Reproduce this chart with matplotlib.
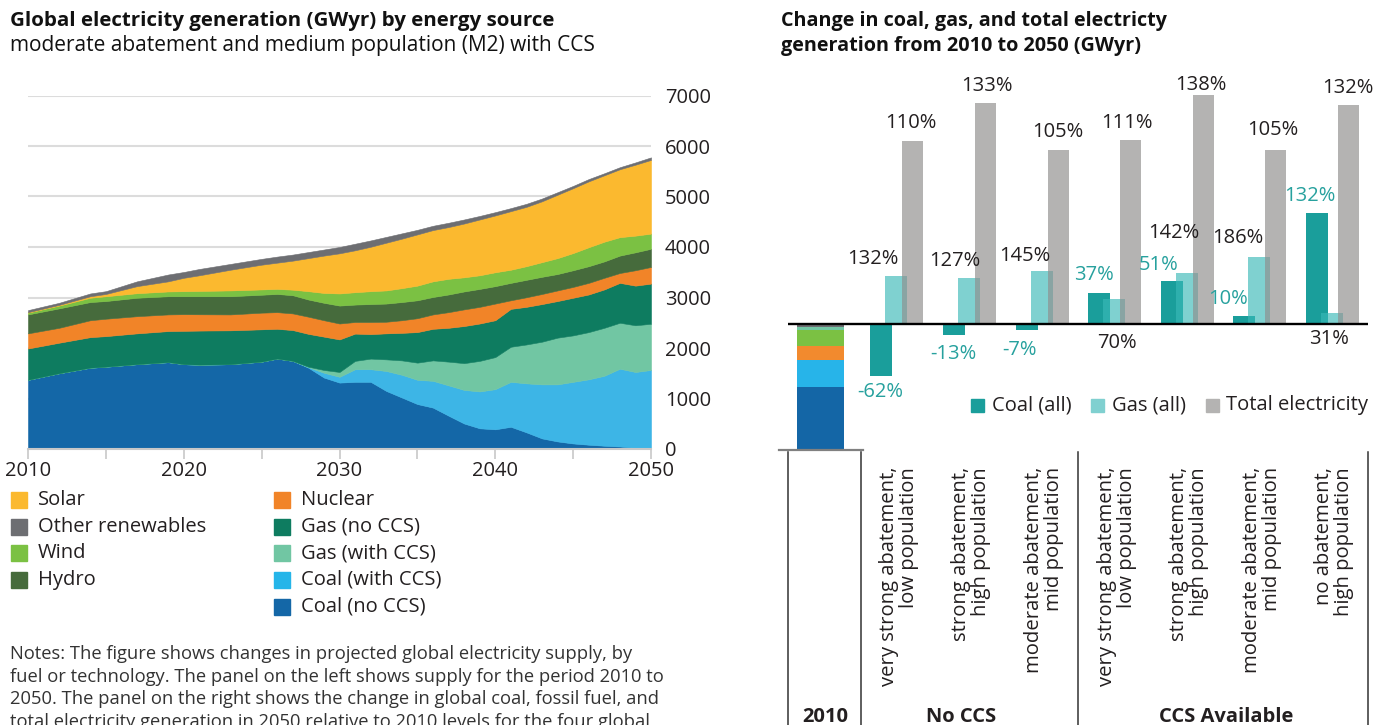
import matplotlib
matplotlib.use("Agg")
import matplotlib.pyplot as plt
import numpy as np
from matplotlib.patches import Rectangle
from matplotlib.lines import Line2D

plt.rcParams['font.family'] = ['Open Sans', 'DejaVu Sans']

W, H = 1384, 725
DPI = 100

# ---------------- Left panel data (GWyr) ----------------
years = [2010, 2012, 2014, 2015, 2017, 2019, 2020, 2021, 2023, 2025, 2026, 2027,
         2028, 2029, 2030, 2031, 2032, 2033, 2034, 2035, 2036, 2037, 2038, 2039,
         2040, 2041, 2042, 2043, 2044, 2045, 2046, 2047, 2048, 2049, 2050]
coal_no_ccs = [1370, 1500, 1610, 1630, 1680, 1720, 1680, 1670, 1680, 1730, 1790, 1745,
               1610, 1415, 1315, 1330, 1330, 1150, 1020, 890, 820, 660, 505, 410,
               390, 440, 330, 210, 150, 110, 85, 65, 50, 25, 0]
coal_with_ccs = [0, 0, 0, 0, 0, 0, 0, 0, 0, 0, 0, 0,
                 10, 95, 115, 250, 250, 395, 450, 480, 530, 600, 665, 730,
                 795, 890, 970, 1070, 1130, 1220, 1295, 1385, 1540, 1500, 1565]
gas_with_ccs = [0, 0, 0, 0, 0, 0, 0, 0, 0, 0, 0, 0,
                10, 55, 95, 165, 210, 230, 285, 340, 405, 470, 530, 605,
                635, 695, 770, 845, 925, 920, 935, 950, 910, 925, 915]
gas_no_ccs = [620, 605, 605, 605, 610, 615, 660, 675, 670, 640, 590, 610,
              650, 660, 645, 540, 485, 515, 545, 605, 625, 670, 735, 740,
              730, 750, 745, 745, 725, 745, 745, 760, 790, 785, 795]
nuclear = [300, 295, 335, 345, 340, 330, 330, 323, 315, 330, 330, 330,
           340, 325, 315, 230, 240, 230, 250, 275, 285, 310, 330, 330,
           330, 170, 190, 200, 210, 215, 230, 230, 195, 305, 330]
hydro = [375, 385, 360, 350, 365, 360, 355, 357, 360, 355, 360, 360,
         340, 345, 355, 345, 355, 360, 360, 355, 345, 350, 355, 355,
         345, 345, 345, 340, 325, 330, 330, 325, 345, 355, 360]
wind = [35, 55, 85, 95, 90, 95, 100, 105, 115, 105, 100, 110,
        165, 195, 240, 245, 255, 260, 275, 290, 310, 310, 280, 270,
        275, 260, 270, 290, 315, 340, 375, 390, 365, 330, 300]
solar = [10, 15, 30, 45, 140, 200, 265, 310, 410, 490, 520, 575,
         655, 740, 795, 830, 880, 945, 980, 1015, 1015, 1025, 1065, 1105,
         1125, 1160, 1175, 1205, 1255, 1285, 1305, 1315, 1345, 1405, 1460]
other_renewables = [40, 40, 55, 55, 95, 135, 115, 125, 115, 115, 120, 120,
                    120, 120, 125, 130, 125, 115, 105, 90, 85, 85, 80, 70,
                    65, 60, 60, 55, 50, 45, 45, 40, 40, 45, 50]

y_ticks = [0, 1000, 2000, 3000, 4000, 5000, 6000, 7000]
x_ticks = [2010, 2015, 2020, 2025, 2030, 2035, 2040, 2045, 2050]
x_tick_labels = ['2010', '', '2020', '', '2030', '', '2040', '', '2050']

legend_col1 = ['Solar', 'Other renewables', 'Wind', 'Hydro']
legend_col2 = ['Nuclear', 'Gas (no CCS)', 'Gas (with CCS)', 'Coal (with CCS)', 'Coal (no CCS)']

# ---------------- Right panel data ----------------
scenarios = ['very strong abatement,\nlow population',
             'strong abatement,\nhigh population',
             'moderate abatement,\nmid population',
             'very strong abatement,\nlow population',
             'strong abatement,\nhigh population',
             'moderate abatement,\nmid population',
             'no abatement,\nhigh population']
scenario_groups = ['No CCS', 'CCS Available']
coal_pct = [-62, -13, -7, 37, 51, 10, 132]
gas_pct = [132, 127, 145, 70, 142, 186, 31]
total_pct = [110, 133, 105, 111, 138, 105, 132]
coal_2010 = 1395
gas_2010 = 600
total_2010 = 2750
# 2010 reference bar segments (drawn downward from zero), top to bottom
bar2010_values = [50, 50, 265, 232, 452, 1370]

# ---------------- colours ----------------
C_SOLAR = '#fbb92f'
C_OTHER = '#6d6e72'
C_WIND = '#7bc143'
C_HYDRO = '#466b3c'
C_NUC = '#f18428'
C_GAS = '#0e7c60'
C_GASCCS = '#71c6a3'
C_COALCCS = '#3db5e6'
C_COALCCS_LEG = '#25b5e9'
C_COAL = '#1467a7'
TXT = '#231f20'
TEAL = '#1a9e9b'
TEAL_TXT = '#27a19e'

fig = plt.figure(figsize=(W / DPI, H / DPI), dpi=DPI)


def fx(x):
    return x / W


def fy(y):
    return 1 - y / H


def fit_text(x, y, s, width_px, size0=14, **kw):
    t = fig.text(fx(x), fy(y), s, fontsize=size0, **kw)
    r = fig.canvas.get_renderer()
    w = t.get_window_extent(r).width
    t.set_fontsize(size0 * width_px / w)
    return t


# ================= LEFT PANEL =================
ax1 = fig.add_axes([fx(28), fy(449), (651 - 28) / W, (449 - 95.5) / H])
layers = [coal_no_ccs, coal_with_ccs, gas_with_ccs, gas_no_ccs, nuclear, hydro,
          wind, solar, other_renewables]
cols = [C_COAL, C_COALCCS, C_GASCCS, C_GAS, C_NUC, C_HYDRO, C_WIND, C_SOLAR, C_OTHER]
polys = ax1.stackplot(years, *layers, colors=cols)
for p, c in zip(polys, cols):
    p.set_edgecolor(c)
    p.set_linewidth(0.4)
ax1.set_xlim(2010, 2050)
ax1.set_ylim(0, 7000)
ax1.set_yticks(y_ticks)
ax1.set_yticklabels([str(v) for v in y_ticks])
ax1.yaxis.tick_right()
ax1.tick_params(axis='y', length=0, pad=10, labelsize=14.5, labelcolor=TXT)
ax1.set_xticks(x_ticks)
ax1.set_xticklabels(x_tick_labels)
ax1.tick_params(axis='x', length=7, width=1.2, color='#c8c8c8', pad=2,
                labelsize=14.5, labelcolor=TXT)
for s in ['top', 'left', 'right']:
    ax1.spines[s].set_visible(False)
ax1.spines['bottom'].set_color('#c8c8c8')
ax1.spines['bottom'].set_linewidth(1.5)
ax1.grid(axis='y', color='#dcdcdc', lw=1.5)
ax1.set_axisbelow(True)

# titles
fit_text(10, 21, 'Global electricity generation (GWyr) by energy source', 539,
         size0=13, weight='bold', color='#111111', va='center', ha='left')
fit_text(10, 46, 'moderate abatement and medium population (M2) with CCS', 591,
         size0=14, color='#111111', va='center', ha='left')

# left legend
rows = [500, 526.7, 553.3, 580, 606.7]
col1_colors = [C_SOLAR, C_OTHER, C_WIND, C_HYDRO]
col2_colors = [C_NUC, C_GAS, C_GASCCS, C_COALCCS_LEG, C_COAL]
for lab, c, yy in zip(legend_col1, col1_colors, rows):
    fig.add_artist(Rectangle((fx(11), fy(yy + 8)), 16 / W, 16 / H, color=c,
                             transform=fig.transFigure))
    fig.text(fx(38), fy(yy), lab, fontsize=14.5, color=TXT, va='center', ha='left')
for lab, c, yy in zip(legend_col2, col2_colors, rows):
    fig.add_artist(Rectangle((fx(274), fy(yy + 8)), 16 / W, 16 / H, color=c,
                             transform=fig.transFigure))
    fig.text(fx(301), fy(yy), lab, fontsize=14.5, color=TXT, va='center', ha='left')

# notes
notes = ['Notes: The figure shows changes in projected global electricity supply, by',
         'fuel or technology. The panel on the left shows supply for the period 2010 to',
         '2050. The panel on the right shows the change in global coal, fossil fuel, and',
         'total electricity generation in 2050 relative to 2010 levels for the four global']
t0 = fit_text(10, 654, notes[0], 618, size0=13, color='#333333', va='center', ha='left')
nsize = t0.get_fontsize()
for i, line in enumerate(notes[1:], start=1):
    fig.text(fx(10), fy(654 + 22.7 * i), line, fontsize=nsize, color='#333333',
             va='center', ha='left')

# ================= RIGHT PANEL =================
k = 16.557   # GWyr per pixel
u = 72.57    # pixels per group
ax2 = fig.add_axes([fx(779), fy(449), (1370 - 779) / W, (449 - 60) / H])
ax2.set_ylim(-(449 - 324) * k, (324 - 60) * k)
ax2.set_xlim(1 - (896.9 - 779) / u, 1 + (1370 - 896.9) / u)
ax2.axis('off')

pos = np.arange(1, len(scenarios) + 1)
coal_vals = np.array(coal_pct) / 100 * coal_2010
gas_vals = np.array(gas_pct) / 100 * gas_2010
total_vals = np.array(total_pct) / 100 * total_2010

ax2.bar(pos - 26.5 / u, coal_vals, width=22 / u, align='edge', color=TEAL, lw=0, zorder=2)
ax2.bar(pos - 11.5 / u, gas_vals, width=22 / u, align='edge', color=(58/255, 185/255, 184/255),
        alpha=0.65, lw=0, zorder=3)
ax2.bar(pos + 5.5 / u, total_vals, width=21 / u, align='edge', color=(143/255, 142/255, 141/255),
        alpha=0.67, lw=0, zorder=4)

# 2010 reference bar
seg_colors = ['#6d6e72', '#71c6a3', '#7bc143', '#f28a2e', '#27b4e9', '#1466a6']
top = 0
for v, c in zip(bar2010_values, seg_colors):
    ax2.bar(-0.05, -v, bottom=top, width=47 / u, color=c, lw=0, zorder=2)
    top -= v

# zero line
ax2.plot([1 - (896.9 - 788) / u, 1 + (1367.5 - 896.9) / u], [0, 0], color='black',
         lw=1.7, zorder=6, solid_capstyle='butt')

# value labels
coal_off = [(-1, -16), (-1, -19), (-7, -20), (-5, 18), (-13, 16), (-16, 17), (-7, 17)]
gas_off = [(-24, 17), (-14, 17), (-17, 15), (3, -44), (-13, 40), (-21, 19), (-3, -26)]
tot_off = [(-2, 18), (1, 17), (0, 18), (-4, 17), (-2, 10), (-3, 20), (0, 17)]
for i in range(len(scenarios)):
    ax2.annotate(f'{coal_pct[i]}%', (pos[i] - 15.5 / u, coal_vals[i]), xytext=coal_off[i],
                 textcoords='offset pixels', ha='center', va='center', fontsize=14.5,
                 color=TEAL_TXT, zorder=8)
    ax2.annotate(f'{gas_pct[i]}%', (pos[i] - 0.5 / u, gas_vals[i]), xytext=gas_off[i],
                 textcoords='offset pixels', ha='center', va='center', fontsize=14.5,
                 color=TXT, zorder=8)
    ax2.annotate(f'{total_pct[i]}%', (pos[i] + 16 / u, total_vals[i]), xytext=tot_off[i],
                 textcoords='offset pixels', ha='center', va='center', fontsize=14.5,
                 color=TXT, zorder=8)

# right legend
leg_items = [('Coal (all)', TEAL, 971, 992), ('Gas (all)', '#80d0d0', 1091, 1112),
             ('Total electricity', '#b4b3b2', 1206, 1226)]
for lab, c, sx, tx in leg_items:
    fig.add_artist(Rectangle((fx(sx), fy(411.5)), 13 / W, 13 / H, color=c,
                             transform=fig.transFigure))
    fig.text(fx(tx), fy(405), lab, fontsize=14.5, color=TXT, va='center', ha='left')

# right title
fit_text(781, 21, 'Change in coal, gas, and total electricty', 382, size0=13,
         weight='bold', color='#111111', va='center', ha='left')
rt_size = fig.texts[-1].get_fontsize()
fig.text(fx(781), fy(46), 'generation from 2010 to 2050 (GWyr)', fontsize=rt_size,
         weight='bold', color='#111111', va='center', ha='left')

# category area below the panel
fig.add_artist(Line2D([fx(779), fx(863)], [fy(450), fy(450)], color='#808080', lw=1.6,
                      transform=fig.transFigure))
for xx in [788, 860.5, 1077.5, 1367.5]:
    fig.add_artist(Line2D([fx(xx), fx(xx)], [fy(452), fy(726)], color='#333333', lw=1.1,
                          transform=fig.transFigure))

for i, s in enumerate(scenarios):
    gx = 896.9 + i * u + 2
    fig.text(fx(gx), fy(467), s, rotation=90, ha='center', va='top', multialignment='right',
             fontsize=14.6, color=TXT, linespacing=1.0)

fig.text(fx(825), fy(722), '2010', fontsize=14.5, weight='bold', color=TXT, ha='center',
         va='baseline')
fig.text(fx(961), fy(722), scenario_groups[0], fontsize=14.5, weight='bold', color=TXT,
         ha='center', va='baseline')
fig.text(fx(1226), fy(722), scenario_groups[1], fontsize=14.5, weight='bold', color=TXT,
         ha='center', va='baseline')

fig.savefig('out.png', dpi=DPI)
